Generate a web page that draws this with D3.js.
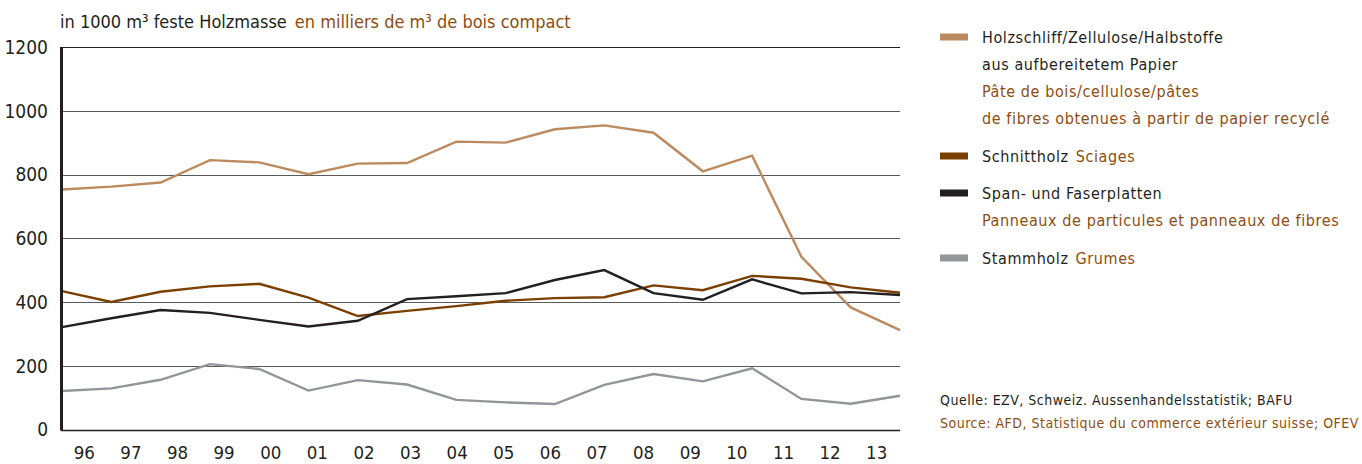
<!DOCTYPE html>
<html>
<head>
<meta charset="utf-8">
<script src="https://cdn.jsdelivr.net/npm/d3@7"></script>
<style>
  html, body { margin: 0; padding: 0; background: #fff; }
  svg text { font-family: "Liberation Sans Narrow", "DejaVu Sans Condensed", "Roboto", sans-serif; }
</style>
</head>
<body>
<svg id="chart" width="1362" height="464"></svg>
<script>
// Years shown along the bottom axis
const years = ["96","97","98","99","00","01","02","03","04","05","06","07","08","09","10","11","12","13"];

// Import volumes, in 1000 m³ solid wood
const pulp = [753, 762, 775, 845, 838, 801, 834, 836, 903, 900, 942, 954, 931, 810, 859, 542, 383, 312];
const sawn = [434, 400, 432, 449, 457, 414, 356, 372, 387, 404, 412, 415, 452, 437, 482, 473, 446, 429];
const panels = [321, 349, 375, 366, 344, 323, 341, 409, 418, 428, 469, 500, 428, 407, 471, 427, 431, 422];
const logs = [121, 129, 156, 205, 190, 122, 155, 141, 93, 85, 80, 140, 174, 151, 192, 96, 81, 106];

const yTicks = [0, 200, 400, 600, 800, 1000, 1200];

const series = [
  { key: "pulp", values: pulp, color: "#bb8b5f" },
  { key: "sawn", values: sawn, color: "#7b3f00" },
  { key: "panels", values: panels, color: "#231f20" },
  { key: "logs", values: logs, color: "#939598" }
];

const deColor = "#231f20";
const frColor = "#8d4d12";

const svg = d3.select("#chart");

const plotLeft = 61, plotRight = 900, plotTop = 47, plotBottom = 429.5;

// Labels sit in the middle of each year band; data points run edge to edge
const xBand = d3.scaleBand().domain(years).range([plotLeft, plotRight]);
const xPoint = d3.scalePoint().domain(years).range([plotLeft + 1, plotRight]);
const y = d3.scaleLinear().domain([0, 1200]).range([plotBottom, plotTop]);

// Horizontal grid
svg.append("g")
  .selectAll("line")
  .data(yTicks)
  .join("line")
  .attr("x1", plotLeft)
  .attr("x2", plotRight)
  .attr("y1", d => Math.round(y(d)) + 0.5)
  .attr("y2", d => Math.round(y(d)) + 0.5)
  .attr("stroke", d => (d === 0 || d === 1200) ? "#231f20" : "#5a5a5a")
  .attr("stroke-width", d => d === 0 ? 1.4 : 1.1);

// Y tick labels
svg.append("g")
  .selectAll("text")
  .data(yTicks)
  .join("text")
  .attr("x", 48)
  .attr("y", d => y(d))
  .attr("dy", "0.36em")
  .attr("text-anchor", "end")
  .attr("font-size", 19)
  .attr("fill", deColor)
  .text(d => d);

// X tick labels
svg.append("g")
  .selectAll("text")
  .data(years)
  .join("text")
  .attr("x", d => xBand(d) + xBand.bandwidth() / 2)
  .attr("y", 459)
  .attr("text-anchor", "middle")
  .attr("font-size", 18.5)
  .attr("fill", deColor)
  .text(d => d);

// Series lines
const line = d3.line()
  .x((d, i) => xPoint(years[i]))
  .y(d => y(d));

svg.append("g")
  .selectAll("path")
  .data(series)
  .join("path")
  .attr("d", d => line(d.values))
  .attr("fill", "none")
  .attr("stroke", d => d.color)
  .attr("stroke-width", 2.4)
  .attr("stroke-linejoin", "miter");

// Left axis bar
svg.append("line")
  .attr("x1", plotLeft + 0.5).attr("x2", plotLeft + 0.5)
  .attr("y1", plotTop).attr("y2", plotBottom + 1)
  .attr("stroke", "#231f20")
  .attr("stroke-width", 3);

// Unit caption
const cap = svg.append("text")
  .attr("x", 60)
  .attr("y", 28)
  .attr("font-size", 18);
cap.append("tspan").attr("fill", deColor).text("in 1000 m³ feste Holzmasse");
cap.append("tspan").attr("fill", frColor).attr("dx", 8).text("en milliers de m³ de bois compact");

// Legend
const legend = [
  { color: "#bb8b5f", lines: [
    ["Holzschliff/Zellulose/Halbstoffe", deColor],
    ["aus aufbereitetem Papier", deColor],
    ["Pâte de bois/cellulose/pâtes", frColor],
    ["de fibres obtenues à partir de papier recyclé", frColor]
  ], y: 37 },
  { color: "#7b3f00", lines: [["Schnittholz", deColor, "Sciages"]], y: 156 },
  { color: "#231f20", lines: [
    ["Span- und Faserplatten", deColor],
    ["Panneaux de particules et panneaux de fibres", frColor]
  ], y: 193 },
  { color: "#939598", lines: [["Stammholz", deColor, "Grumes"]], y: 258 }
];

const lg = svg.append("g");
legend.forEach(item => {
  lg.append("rect")
    .attr("x", 940).attr("y", item.y - 3.5)
    .attr("width", 28).attr("height", 7)
    .attr("fill", item.color);
  item.lines.forEach((ln, i) => {
    const t = lg.append("text")
      .attr("x", 982)
      .attr("y", item.y + i * 27)
      .attr("dy", "0.36em")
      .attr("font-size", 16)
      .attr("letter-spacing", 0.6);
    t.append("tspan").attr("fill", ln[1]).text(ln[0]);
    if (ln[2]) t.append("tspan").attr("fill", frColor).attr("dx", 7).text(ln[2]);
  });
});

// Source note
svg.append("text")
  .attr("x", 940).attr("y", 400).attr("dy", "0.36em")
  .attr("font-size", 14).attr("letter-spacing", 0.5)
  .attr("fill", deColor)
  .text("Quelle: EZV, Schweiz. Aussenhandelsstatistik; BAFU");
svg.append("text")
  .attr("x", 940).attr("y", 423).attr("dy", "0.36em")
  .attr("font-size", 14).attr("letter-spacing", 0.5)
  .attr("fill", frColor)
  .text("Source: AFD, Statistique du commerce extérieur suisse; OFEV");
</script>
</body>
</html>
